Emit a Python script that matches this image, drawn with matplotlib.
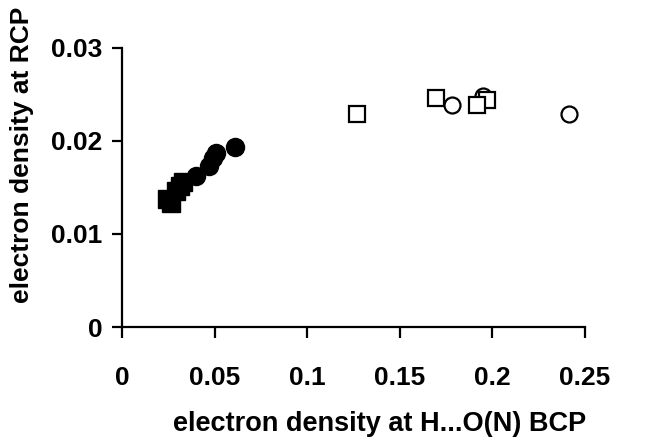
import matplotlib
matplotlib.use("Agg")
import matplotlib.pyplot as plt

plt.rcParams['font.family'] = ['Liberation Sans', 'DejaVu Sans']
plt.rcParams['font.weight'] = 'bold'

# filled symbols (small BCP density)
sq_fill_x = [0.0243, 0.0265, 0.0292, 0.0313, 0.0329]
sq_fill_y = [0.01376, 0.01333, 0.01462, 0.01516, 0.01559]
ci_fill_x = [0.040, 0.047, 0.049, 0.0508, 0.061]
ci_fill_y = [0.01624, 0.01731, 0.0182, 0.0187, 0.01935]

# open symbols (large BCP density)
sq_open_x = [0.127, 0.1696, 0.197, 0.1917]
sq_open_y = [0.0229, 0.0246, 0.0244, 0.0239]
ci_open_x = [0.178, 0.195, 0.2414]
ci_open_y = [0.0239, 0.0248, 0.0229]

x_ticks = [0, 0.05, 0.1, 0.15, 0.2, 0.25]
x_ticklabels = ['0', '0.05', '0.1', '0.15', '0.2', '0.25']
y_ticks = [0, 0.01, 0.02, 0.03]
y_ticklabels = ['0', '0.01', '0.02', '0.03']

fig = plt.figure(figsize=(6.54, 4.44), dpi=100)
ax = fig.add_axes([0.1865, 0.2635, 0.708, 0.6285])

ax.plot(ci_open_x, ci_open_y, 'o', ms=11.5, mfc='white', mec='black', mew=1.6, ls='none')
ax.plot(sq_open_x, sq_open_y, 's', ms=11.5, mfc='white', mec='black', mew=1.6, ls='none')
ax.plot(sq_fill_x, sq_fill_y, 's', ms=13, color='black', ls='none')
ax.plot(ci_fill_x, ci_fill_y, 'o', ms=13, color='black', ls='none')

ax.set_xlim(0, 0.25)
ax.set_ylim(0, 0.03)
ax.set_xticks(x_ticks)
ax.set_xticklabels(x_ticklabels)
ax.set_yticks(y_ticks)
ax.set_yticklabels(y_ticklabels)

for s in ['top', 'right']:
    ax.spines[s].set_visible(False)
for s in ['left', 'bottom']:
    ax.spines[s].set_linewidth(1.6)

ax.tick_params(axis='x', direction='out', length=8, width=1.6, pad=20, labelsize=19)
ax.tick_params(axis='y', direction='out', length=7, width=1.6, pad=7, labelsize=19)

ax.set_xlabel('electron density at H...O(N) BCP', fontsize=19.5, fontweight='bold')
ax.set_ylabel('electron density at RCP', fontsize=19, fontweight='bold')
ax.xaxis.set_label_coords(0.557, -0.3)
ax.yaxis.set_label_coords(-0.19, 0.616)

fig.savefig('out.png', dpi=100)
